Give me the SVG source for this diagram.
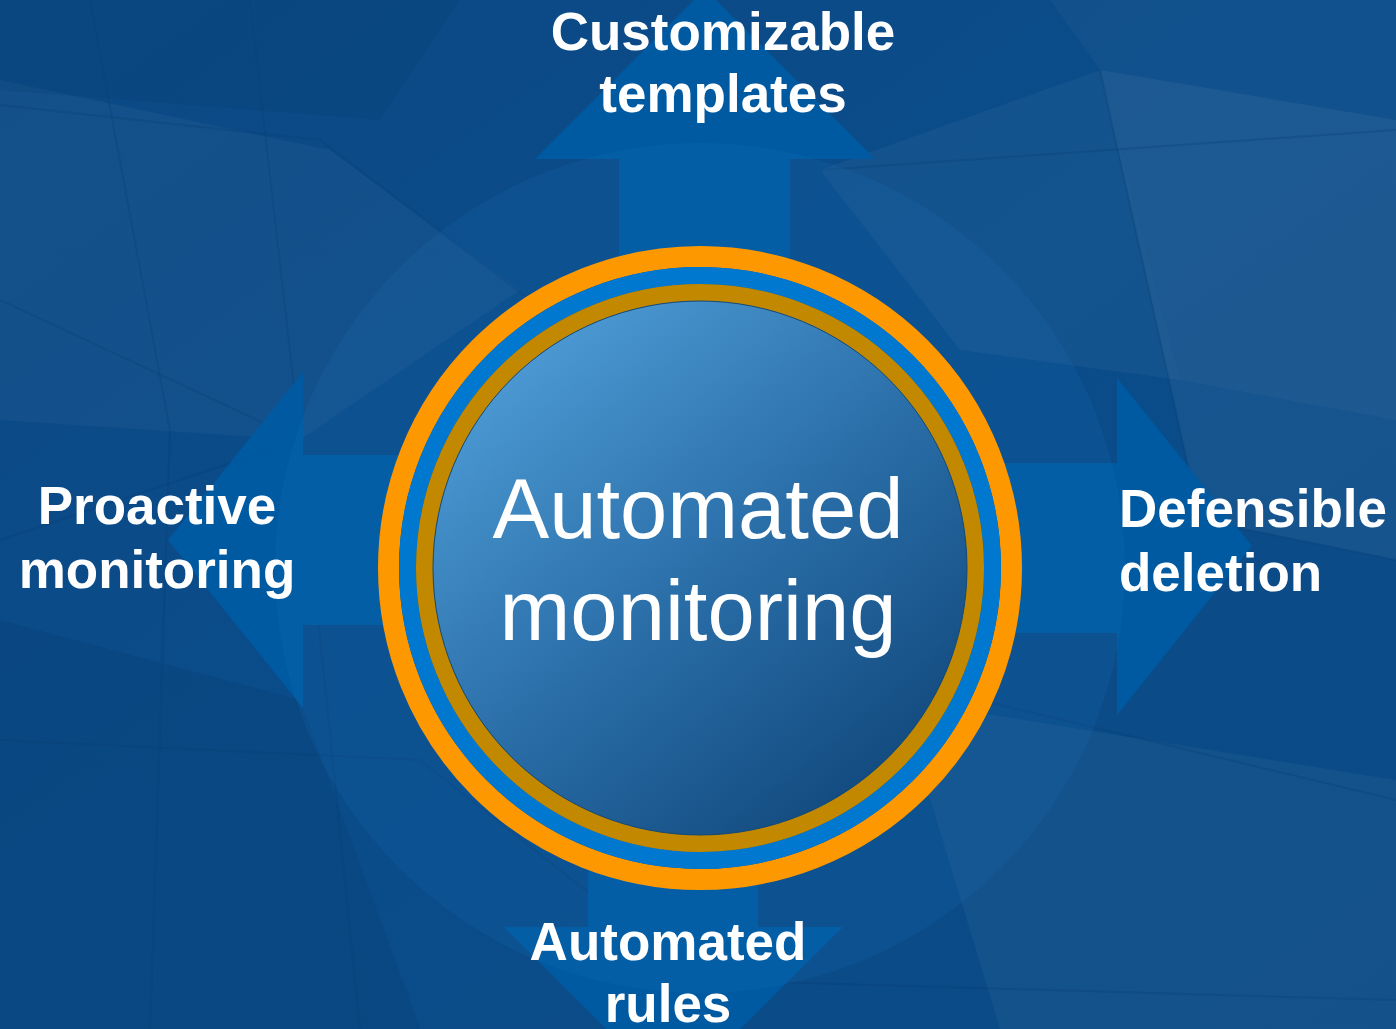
<svg xmlns="http://www.w3.org/2000/svg" width="1396" height="1029" viewBox="0 0 1396 1029">
<defs>
<linearGradient id="bg" x1="0" y1="0" x2="1" y2="1">
<stop offset="0" stop-color="#0c4985"/>
<stop offset="0.5" stop-color="#0a4c8a"/>
<stop offset="1" stop-color="#0b4a86"/>
</linearGradient>
<linearGradient id="core" x1="0.2" y1="0.1" x2="0.85" y2="0.9">
<stop offset="0" stop-color="#4a97d1"/>
<stop offset="0.5" stop-color="#2a6ea8"/>
<stop offset="1" stop-color="#124a7e"/>
</linearGradient>
<style>
.lbl{font-family:"Liberation Sans",Arial,sans-serif;font-weight:bold;font-size:53px;fill:#ffffff}
.ctr{font-family:"Liberation Sans",Arial,sans-serif;font-size:85px;fill:#ffffff;text-anchor:middle}
.arrow{fill:#005ba3;opacity:0.92}
.facet{fill:#ffffff}
.ln{stroke:#0a3f74;stroke-width:2;fill:none;opacity:0.3}
</style>
</defs>
<g id="background">
<rect x="0" y="0" width="1396" height="1029" fill="url(#bg)"/>
<polygon class="facet" opacity="0.035" points="0,80 330,150 520,290 300,440 0,420"/>
<polygon class="facet" opacity="0.03" points="1050,0 1396,0 1396,420 1180,380 1100,70"/>
<polygon class="facet" opacity="0.05" points="1100,70 1396,120 1396,560 1200,520"/>
<polygon class="facet" opacity="0.04" points="820,170 1100,70 1180,380 960,350"/>
<polygon class="facet" opacity="0.04" points="900,700 1396,780 1396,1029 1000,1029"/>
<polygon fill="#063a70" opacity="0.25" points="0,620 300,700 420,1029 0,1029"/>
<polygon fill="#063a70" opacity="0.2" points="0,0 460,0 380,120 0,90"/>
<polyline class="ln" points="0,105 320,140 530,300"/>
<polyline class="ln" points="90,0 170,430 150,1029"/>
<polyline class="ln" points="250,0 300,440 360,1029"/>
<polyline class="ln" points="1100,70 1200,520 1396,560"/>
<polyline class="ln" points="0,740 420,760 700,980 1396,1000"/>
<polyline class="ln" points="980,700 1396,800"/>
<polyline class="ln" points="820,170 1396,130"/>
<polyline class="ln" points="0,300 300,440 0,540"/>
</g>
<g id="connectors">
<path id="arrow-top" class="arrow" d="M619,320 L619,159 L535,159 L705,-11 L875,159 L790,159 L790,320 Z"/>
<path id="arrow-left" class="arrow" d="M420,455 L303,455 L303,372 L168,540 L303,708 L303,625 L420,625 Z"/>
<path id="arrow-right" class="arrow" d="M980,463 L1117,463 L1117,378 L1252,546 L1117,715 L1117,633 L980,633 Z"/>
<path id="arrow-bottom" class="arrow" d="M588,820 L588,927 L504,927 L673,1096 L843,927 L758,927 L758,820 Z"/>
</g>
<g id="halo">
<circle cx="700" cy="568" r="425" fill="#2a8ad8" opacity="0.1"/>
</g>
<g id="center-node">
<circle cx="700" cy="568" r="311.5" fill="none" stroke="#fe9800" stroke-width="21"/>
<circle cx="700" cy="568" r="292.5" fill="none" stroke="#0078cf" stroke-width="17"/>
<circle cx="700" cy="568" r="275.5" fill="none" stroke="#c28800" stroke-width="17"/>
<circle cx="700" cy="568" r="267" fill="url(#core)" stroke="#1a4a70" stroke-width="1"/>
<text class="ctr" x="698" y="538">Automated</text>
<text class="ctr" x="698" y="640">monitoring</text>
</g>
<g id="node-top">
<text class="lbl" x="723" y="50" text-anchor="middle">Customizable</text>
<text class="lbl" x="723" y="112" text-anchor="middle">templates</text>
</g>
<g id="node-left">
<text class="lbl" x="157" y="524" text-anchor="middle">Proactive</text>
<text class="lbl" x="157" y="588" text-anchor="middle">monitoring</text>
</g>
<g id="node-right">
<text class="lbl" x="1119" y="527">Defensible</text>
<text class="lbl" x="1119" y="591">deletion</text>
</g>
<g id="node-bottom">
<text class="lbl" x="668" y="960" text-anchor="middle">Automated</text>
<text class="lbl" x="668" y="1022" text-anchor="middle">rules</text>
</g>
</svg>
